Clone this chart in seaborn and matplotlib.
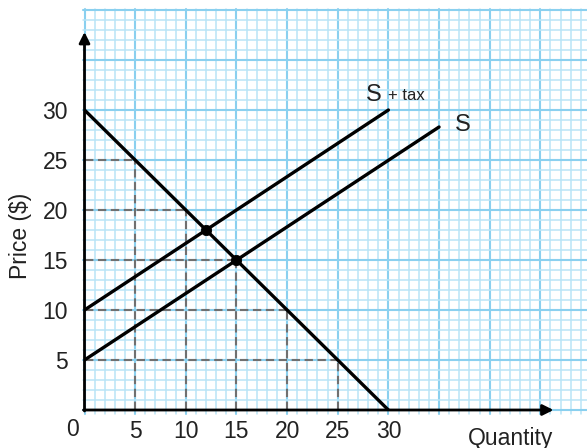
import matplotlib
matplotlib.use("Agg")
import matplotlib.pyplot as plt
import seaborn as sns
import pandas as pd
import numpy as np

sns.set_theme(style="white")
plt.rcParams['font.family'] = ['Liberation Sans', 'DejaVu Sans']

# ---- data ----
demand_q = [0, 30]
demand_p = [30, 0]
supply_q = [0, 35]
supply_p = [5, 28.3]
tax_q = [0, 30]
tax_p = [10, 30]
eq_q = [15, 12]
eq_p = [15, 18]
guide_q = [5, 10, 15, 20, 25]
guide_p = [25, 20, 15, 10, 5]
x_ticks = [5, 10, 15, 20, 25, 30]
y_ticks = [5, 10, 15, 20, 25, 30]

W, H = 587, 448
fig = plt.figure(figsize=(W / 100, H / 100), dpi=100)
x0_px, y0_px = 84.5, 410.0
ppx, ppy = 10.13, 10.0
xmax = (W - x0_px) / ppx
ymax = (y0_px - 9) / ppy
ax = fig.add_axes([x0_px / W, (H - y0_px) / H, (W - x0_px) / W, (y0_px - 9) / H])
ax.set_xlim(0, xmax)
ax.set_ylim(0, ymax)
for s in ax.spines.values():
    s.set_visible(False)

# graph paper grid
gx0, gy0 = -0.15, -0.4
minor_c, major_c = '#b9e4f6', '#8ad0ef'
for v in range(0, int(xmax) + 1):
    major = v % 5 == 0
    ax.plot([v, v], [gy0, ymax], color=major_c if major else minor_c,
            lw=1.5 if major else 1.1, zorder=0, clip_on=False)
for v in range(0, int(ymax) + 1):
    major = v % 5 == 0
    ax.plot([gx0, xmax], [v, v], color=major_c if major else minor_c,
            lw=1.5 if major else 1.1, zorder=0, clip_on=False)

# dashed guides
dash = dict(color='#707070', lw=1.5, ls=(0, (4, 2.2)), zorder=2)
for q, p in zip(guide_q, guide_p):
    ax.plot([0, q], [p, p], **dash)
    ax.plot([q, q], [0, p], **dash)

# axes arrows
ax.annotate('', xy=(0, 37.8), xytext=(0, -0.1),
            arrowprops=dict(arrowstyle='-|>', color='black', lw=2.0, mutation_scale=16,
                            shrinkA=0, shrinkB=0), annotation_clip=False, zorder=5)
ax.annotate('', xy=(46.3, 0), xytext=(-0.1, 0),
            arrowprops=dict(arrowstyle='-|>', color='black', lw=2.0, mutation_scale=16,
                            shrinkA=0, shrinkB=0), annotation_clip=False, zorder=5)

# curves
lw = 2.4
sns.lineplot(x=demand_q, y=demand_p, ax=ax, color='black', lw=lw, zorder=4)
sns.lineplot(x=supply_q, y=supply_p, ax=ax, color='black', lw=lw, zorder=4)
sns.lineplot(x=tax_q, y=tax_p, ax=ax, color='black', lw=lw, zorder=4)
sns.scatterplot(x=eq_q, y=eq_p, ax=ax, color='black', s=55, zorder=6, edgecolor='black')

# labels
fs = 16.5
ax.set_xticks(x_ticks)
ax.set_yticks(y_ticks)
ax.tick_params(axis='both', length=0, labelsize=fs, colors='#222222')
ax.tick_params(axis='x', pad=7)
ax.tick_params(axis='y', pad=12)
ax.text(-1.2, -1.95, '0', ha='center', va='center', fontsize=fs, color='#222222')
ax.text(-6.3, 17.4, 'Price ($)', rotation=90, ha='center', va='center',
        fontsize=16.5, color='#222222')
ax.text(42.1, -2.8, 'Quantity', ha='center', va='center', fontsize=16.5, color='#222222')
ax.text(28.6, 31.5, 'S', ha='center', va='center', fontsize=17, color='#222222')
ax.text(30.0, 31.5, '+ tax', ha='left', va='center', fontsize=12, color='#222222')
ax.text(37.3, 28.5, 'S', ha='center', va='center', fontsize=17, color='#222222')

ax.set_xlabel('')
ax.set_ylabel('')
fig.savefig('out.png', dpi=100, facecolor='white')
